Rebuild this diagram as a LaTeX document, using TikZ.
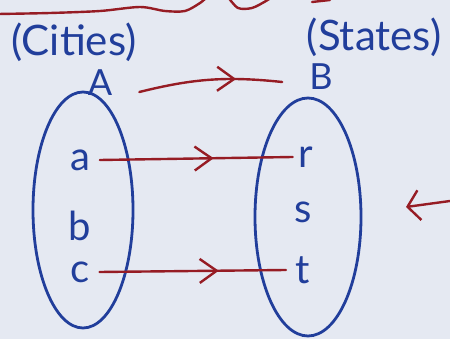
\documentclass[tikz,border=0pt]{standalone}
\usepackage{fontspec}
\setmainfont{Lato}
\usetikzlibrary{shapes.geometric,arrows.meta,decorations.markings}
\definecolor{ink}{RGB}{33,62,155}
\definecolor{redink}{RGB}{150,28,36}
\definecolor{paper}{RGB}{229,233,242}

\begin{document}
\begin{tikzpicture}[
		x=1pt,y=-1pt,
		every node/.style={text=ink,inner sep=1pt,font=\fontsize{36}{38}\selectfont},
		title/.style={font=\fontsize{42}{44}\selectfont},
		set/.style={ellipse,draw=ink,line width=2.8pt},
		elem/.style={inner sep=2pt,outer sep=4pt,font=\fontsize{40}{42}\selectfont},
		redline/.style={draw=redink,line width=2.4pt,line cap=round},
		midarrow/.style={postaction={decorate},decoration={markings,
			mark=at position #1 with {\arrow{Straight Barb[length=17pt,width=24pt]}}}}
		]
		\fill[paper] (0,0) rectangle (450,339);
		\useasboundingbox (0,0) rectangle (450,339);
		\draw[redline] plot[smooth] coordinates {(-2,14) (50,13) (100,11) (140,7) (165,11) (185,11) (200,3) (207,-3)};
		\draw[redline] plot[smooth] coordinates {(228,-3) (238,8) (252,8) (266,1) (272,-3)};
		\draw[redline] (312,2) -- (330,0);
		
		\node[title] (cities) at (74,42) {(Cities)};
		\node[title] (states) at (374,37) {(States)};
		\node (labA) at (100,83) {A};
		\node (labB) at (321,77) {B};
		
		\node[set,minimum width=100pt,minimum height=236pt] (setA) at (83,210) {};
		\node[set,minimum width=106pt,minimum height=238pt] (setB) at (308,217) {};
		
		\node[elem] (a) at (80,160) {a};
		\node[elem] (b) at (80,226) {b};
		\node[elem] (c) at (80,272) {c};
		\node[elem] (r) at (306,157) {r};
		\node[elem] (s) at (303,212) {s};
		\node[elem] (t) at (303,270) {t};
		
		\draw[redline,midarrow=0.68] ([shift={(26,9)}]labA.east) to[bend left=10] ([shift={(-26,5)}]labB.west);
		\draw[redline,midarrow=0.59] ([xshift=4pt]a.east) -- (r.west);
		\draw[redline,midarrow=0.64] ([xshift=4pt]c.east) -- ([xshift=-4pt]t.west);
		
		\coordinate (from) at (450,201);
		\coordinate (tip) at (406,207);
		\draw[redline,-{Straight Barb[length=12pt,width=30pt]}] (from) -- (tip);
\end{tikzpicture}
\end{document}
